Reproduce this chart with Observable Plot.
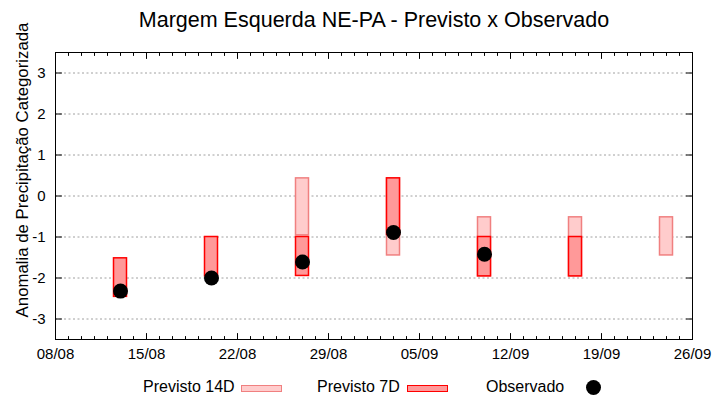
<!DOCTYPE html>
<html>
<head>
<meta charset="utf-8">
<script src="https://cdn.jsdelivr.net/npm/d3@7"></script>
<script src="https://cdn.jsdelivr.net/npm/@observablehq/plot@0.6"></script>
<style>
  body { margin: 0; background: #fff; font-family: "Liberation Sans", Arial, sans-serif; color: #000; }
  #wrap { position: relative; width: 720px; height: 400px; overflow: hidden; }
  #chart { position: absolute; left: 0; top: 0; }
  #title { position: absolute; left: 0; top: 9px; width: 748px; text-align: center; font-size: 21.5px; line-height: 22px; white-space: nowrap; }
  #ylabel { position: absolute; left: 21.5px; top: 170px; transform: translate(-50%, -50%) rotate(-90deg); font-size: 16.8px; line-height: 17px; white-space: nowrap; }
  .lg { position: absolute; font-size: 16px; line-height: 16px; white-space: nowrap; top: 379px; }
  .sw { position: absolute; box-sizing: border-box; height: 7px; top: 385px; width: 41px; border-width: 1.5px; border-style: solid; }
  .dot { position: absolute; width: 15px; height: 15px; border-radius: 50%; background: #000; left: 585.5px; top: 379.5px; }
</style>
</head>
<body>
<div id="wrap">
  <div id="chart"></div>
  <div id="title">Margem Esquerda NE-PA - Previsto x Observado</div>
  <div id="ylabel">Anomalia de Precipitação Categorizada</div>
  <div class="lg" style="left:143px">Previsto 14D</div>
  <div class="sw" style="left:241px;background:#ffcccc;border-color:#f08080"></div>
  <div class="lg" style="left:317px">Previsto 7D</div>
  <div class="sw" style="left:407px;background:#ff9999;border-color:#ff0000"></div>
  <div class="lg" style="left:486px">Observado</div>
  <div class="dot"></div>
</div>
<script>
// ---- data ----
const dates        = ["2021-08-13", "2021-08-20", "2021-08-27", "2021-09-03", "2021-09-10", "2021-09-17", "2021-09-24"];
const prev14Top    = [null, null, 0.43, 0.43, -0.52, -0.52, -0.52];
const prev14Bottom = [null, null, -0.96, -1.45, -1.96, -1.96, -1.45];
const prev7Top     = [-1.52, -1.0, -1.0, 0.43, -1.0, -1.0, null];
const prev7Bottom  = [-2.46, -1.96, -1.95, -0.95, -1.96, -1.96, null];
const observed     = [-2.32, -2.0, -1.61, -0.89, -1.42, null, null];

const xDomain = ["2021-08-08", "2021-09-26"];
const xTickDates = ["2021-08-08", "2021-08-15", "2021-08-22", "2021-08-29", "2021-09-05", "2021-09-12", "2021-09-19", "2021-09-26"];
const yTicks = [-3, -2, -1, 0, 1, 2, 3];
const yDomain = [-3.5, 3.5];

// ---- build tables ----
const parse = s => new Date(s + "T00:00:00Z");
const halfDay = 12 * 3600 * 1000;
const rows = dates.map((d, i) => ({
  date: parse(d),
  x1: new Date(parse(d).getTime() - halfDay),
  x2: new Date(parse(d).getTime() + halfDay),
  p14t: prev14Top[i], p14b: prev14Bottom[i],
  p7t: prev7Top[i], p7b: prev7Bottom[i],
  obs: observed[i]
}));
const r14 = rows.filter(r => r.p14t != null);
const r7 = rows.filter(r => r.p7t != null);
const rObs = rows.filter(r => r.obs != null);

const xMajor = xTickDates.map(parse);
const xMinor = d3.utcDay.range(parse(xDomain[0]), parse(xDomain[1]))
  .filter(d => !xMajor.some(m => +m === +d));

const tickShape = { draw(ctx, l) { ctx.moveTo(0, 0); ctx.lineTo(0, -l); } };
const tk = (data, opts) => Plot.vector(data, { anchor: "start", shape: tickShape, stroke: "#000", strokeWidth: 1, ...opts });

const chart = Plot.plot({
  width: 720,
  height: 400,
  marginTop: 52,
  marginBottom: 61,
  marginLeft: 55,
  marginRight: 28,
  style: { fontFamily: "Liberation Sans, Arial, sans-serif", fontSize: "15px", color: "#000", background: "#fff" },
  x: { type: "utc", domain: xDomain.map(parse) },
  y: { domain: yDomain },
  marks: [
    Plot.ruleY(yTicks, { stroke: "#a0a0a0", strokeWidth: 1, strokeDasharray: "2,2.5" }),
    Plot.rect(r14, { x1: "x1", x2: "x2", y1: "p14b", y2: "p14t", fill: "#ffcccc", stroke: "#f08080", strokeWidth: 1.5 }),
    Plot.rect(r7, { x1: "x1", x2: "x2", y1: "p7b", y2: "p7t", fill: "#ff9999", stroke: "#ff0000", strokeWidth: 1.5 }),
    Plot.dot(rObs, { x: "date", y: "obs", r: 7.5, fill: "#000", stroke: "none" }),
    // inward ticks
    tk(xMinor, { x: d => d, frameAnchor: "bottom", length: 3 }),
    tk(xMajor, { x: d => d, frameAnchor: "bottom", length: 6 }),
    tk(xMinor, { x: d => d, frameAnchor: "top", length: 3, rotate: 180 }),
    tk(xMajor, { x: d => d, frameAnchor: "top", length: 6, rotate: 180 }),
    tk(yTicks, { y: d => d, frameAnchor: "left", length: 6, rotate: 90 }),
    tk(yTicks, { y: d => d, frameAnchor: "right", length: 6, rotate: -90 }),
    Plot.frame({ stroke: "#000", strokeWidth: 1 }),
    Plot.axisX(xMajor, { tickSize: 0, tickPadding: 9, tickFormat: d3.utcFormat("%d/%m"), fontSize: 15, label: null }),
    Plot.axisY(yTicks, { tickSize: 0, tickPadding: 10, tickFormat: d => String(d), fontSize: 15, label: null })
  ]
});
document.getElementById("chart").appendChild(chart);
</script>
</body>
</html>
